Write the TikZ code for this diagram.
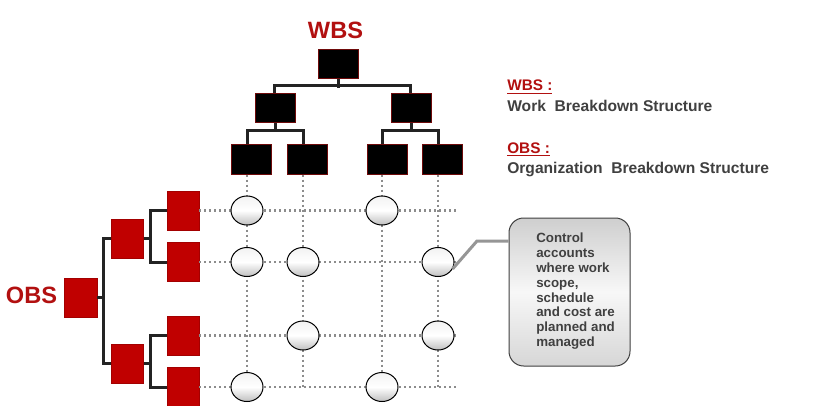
\documentclass[tikz,border=0pt]{standalone}
\usepackage{fontspec}
\setmainfont{Liberation Sans}
\usetikzlibrary{shapes.geometric}
\definecolor{obsred}{RGB}{192,0,0}
\definecolor{txtred}{RGB}{178,16,16}
\definecolor{wbsborder}{RGB}{110,10,10}
\definecolor{darktxt}{RGB}{64,64,64}
\definecolor{dotgray}{RGB}{140,140,140}
\definecolor{treeline}{RGB}{35,35,35}
\definecolor{leadergray}{RGB}{150,150,150}
\begin{document}
\begin{tikzpicture}[x=0.75pt,y=-0.75pt,
  wbsbox/.style={draw=wbsborder, fill=black, line width=0.75pt, minimum width=30pt, minimum height=21.75pt, inner sep=0pt},
  obsbox/.style={draw=obsred!85!black, fill=obsred, line width=0.5pt, minimum width=24pt, minimum height=29.25pt, inner sep=0pt},
  cell/.style={ellipse, draw=black, line width=0.75pt, top color=gray!10, bottom color=gray!50, middle color=white, minimum width=24pt, minimum height=21.75pt, inner sep=0pt},
  tree/.style={draw=treeline, line width=2.25pt},
  gridline/.style={draw=dotgray, line width=1.8pt, dash pattern=on 1.6pt off 2.15pt},
  leader/.style={draw=leadergray, line width=2.25pt},
  notebox/.style={draw=black!75, line width=0.75pt, rounded corners=11pt, top color=gray!38, bottom color=gray!32, middle color=gray!6, minimum width=90.75pt, minimum height=111pt, inner sep=0pt},
  notetext/.style={font=\bfseries\fontsize{10}{11.1}\selectfont, text=darktxt, align=left, inner sep=0pt},
  bigtitle/.style={font=\bfseries\fontsize{17.7}{20}\selectfont, text=txtred, inner sep=0pt},
  legendhead/.style={font=\bfseries\fontsize{11.5}{13}\selectfont, text=txtred, inner sep=0pt},
  legendtext/.style={font=\bfseries\fontsize{11.7}{13}\selectfont, text=darktxt, inner sep=0pt}
]
\useasboundingbox (0,0) rectangle (820,406);
\fill[white] (0,0) rectangle (820,406);

% titles
\node[bigtitle, anchor=base] (wbstitle) at (335.5,39) {WBS};
\node[bigtitle, anchor=base] (obstitle) at (31.5,303) {OBS};

% legend
\node[legendhead, anchor=base west] (lw) at (507,91) {\underline{WBS :}};
\node[legendtext, anchor=base west] (lwt) at (507,111.5) {Work~~Breakdown Structure};
\node[legendhead, anchor=base west] (lo) at (507,153) {\underline{OBS :}};
\node[legendtext, anchor=base west] (lot) at (507,173) {Organization~~Breakdown Structure};

% column / edge coordinates
\coordinate (k1) at (247,175);
\coordinate (k2) at (303,175);
\coordinate (k3) at (382,175);
\coordinate (k4) at (438,175);
\coordinate (gend) at (458,0);

% WBS boxes
\node[wbsbox] (w0) at (338,64.5) {};
\node[wbsbox] (w1) at (275.5,108.5) {};
\node[wbsbox] (w2) at (411,108.5) {};
\node[wbsbox] (w11) at (251.5,159.5) {};
\node[wbsbox] (w12) at (307,159.5) {};
\node[wbsbox] (w21) at (387,159.5) {};
\node[wbsbox] (w22) at (442,159.5) {};

% OBS boxes
\node[obsbox, minimum width=24.75pt] (o0) at (80.5,297.5) {};
\node[obsbox] (o1) at (127.5,238.5) {};
\node[obsbox] (o2) at (127.5,363.5) {};
\node[obsbox] (o11) at (183,210.5) {};
\node[obsbox] (o12) at (183,262) {};
\node[obsbox] (o21) at (183,335.5) {};
\node[obsbox] (o22) at (183,387) {};

% WBS tree connectors
\draw[tree] (w0.south) -- ++(0,8.5);
\draw[tree] (w1.north -| 274,0) -- ++(0,-7.5) -| (w2.north -| 410,0);
\draw[tree] (w1.south) -- ++(0,8.5);
\draw[tree] (w11.north -| k1) -- ++(0,-14) -| (w12.north -| k2);
\draw[tree] (w2.south) -- ++(0,8.5);
\draw[tree] (w21.north -| k3) -- ++(0,-14) -| (w22.north -| k4);

% OBS tree connectors
\draw[tree] (o0.east) -- ++(7.5,0);
\draw[tree] (o1.west) -- ++(-8,0) |- (o2.west);
\draw[tree] (o1.east) -- ++(8,0);
\draw[tree] (o11.west) -- ++(-16,0) |- (o12.west);
\draw[tree] (o2.east) -- ++(8,0);
\draw[tree] (o21.west) -- ++(-16,0) |- (o22.west);

% dotted grid
\foreach \r in {o11,o12,o21,o22}{
  \draw[gridline] (\r.east) -- (\r.east -| gend);
}
\draw[gridline] (w11.south -| k1) -- (k1 |- o22);
\draw[gridline] (w12.south -| k2) -- (k2 |- o22);
\draw[gridline] (w21.south -| k3) -- (k3 |- o22);
\draw[gridline] (w22.south -| k4) -- (k4 |- o22);

% control account circles
\node[cell] (ca11) at (k1 |- o11) {};
\node[cell] (ca13) at (k3 |- o11) {};
\node[cell] (ca21) at (k1 |- o12) {};
\node[cell] (ca22) at (k2 |- o12) {};
\node[cell] (ca24) at (k4 |- o12) {};
\node[cell] (ca32) at (k2 |- o21) {};
\node[cell] (ca34) at (k4 |- o21) {};
\node[cell] (ca41) at (k1 |- o22) {};
\node[cell] (ca43) at (k3 |- o22) {};

% callout
\node[notebox] (note) at (569.5,292) {};
\node[notetext, anchor=north west] (notetxt) at (536,233) {Control\\accounts\\where work\\scope,\\schedule\\and cost are\\planned and\\managed};
\coordinate (bend) at (477,241);
\draw[leader] (ca24.-25) -- (bend) -- (bend -| note.west);
\end{tikzpicture}
\end{document}
